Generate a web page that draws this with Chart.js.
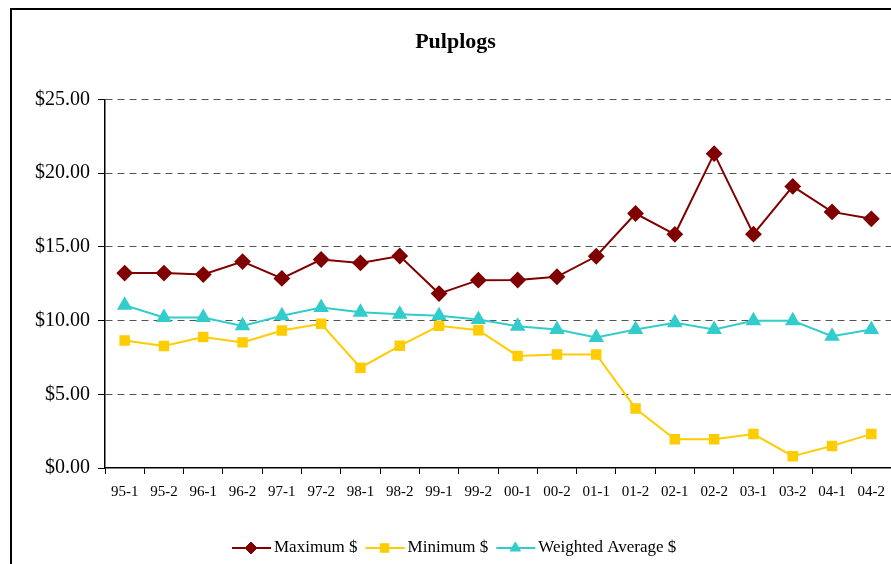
<!DOCTYPE html>
<html>
<head>
<meta charset="utf-8">
<script src="https://cdn.jsdelivr.net/npm/chart.js@4/dist/chart.umd.min.js"></script>
<style>
  body { margin: 0; background: #fff; }
  #wrap { position: relative; width: 891px; height: 564px; overflow: hidden; }
  #frame { position: absolute; left: 10px; top: 8px; width: 1000px; height: 700px;
           border-left: 2px solid #000; border-top: 2px solid #000; }
  canvas { position: absolute; left: 0; top: 0; }
</style>
</head>
<body>
<div id="wrap">
  <div id="frame"></div>
  <!-- canvas is a bit wider than the window so the title centers like the original frame -->
  <canvas id="myChart" width="911" height="564"></canvas>
</div>
<script>
const periods = ['95-1', '95-2', '96-1', '96-2', '97-1', '97-2', '98-1', '98-2', '99-1', '99-2',
  '00-1', '00-2', '01-1', '01-2', '02-1', '02-2', '03-1', '03-2', '04-1', '04-2'];

const maximum = [13.22, 13.22, 13.12, 14.0, 12.86, 14.14, 13.91, 14.38, 11.83, 12.74,
  12.75, 12.97, 14.36, 17.26, 15.85, 21.32, 15.86, 19.1, 17.37, 16.9];

const minimum = [8.65, 8.28, 8.88, 8.52, 9.33, 9.78, 6.8, 8.29, 9.64, 9.35,
  7.6, 7.7, 7.7, 4.04, 1.95, 1.95, 2.3, 0.8, 1.5, 2.3];

const weightedAvg = [11.04, 10.21, 10.21, 9.64, 10.32, 10.89, 10.57, 10.43, 10.32, 10.07,
  9.62, 9.39, 8.85, 9.39, 9.85, 9.39, 9.98, 9.98, 8.94, 9.39];

const serif = '"Liberation Serif", "Times New Roman", serif';

// legend drawn as line + marker like the original
const lineLegend = {
  id: 'lineLegend',
  afterDraw(chart) {
    const ctx = chart.ctx;
    const y = 548;
    let x = 232;
    ctx.save();
    ctx.font = '17px ' + serif;
    ctx.textBaseline = 'middle';
    chart.data.datasets.forEach(ds => {
      ctx.strokeStyle = ds.borderColor;
      ctx.lineWidth = 2;
      ctx.beginPath();
      ctx.moveTo(x, y);
      ctx.lineTo(x + 39, y);
      ctx.stroke();
      ctx.fillStyle = ds.pointBackgroundColor;
      ctx.strokeStyle = ds.pointBackgroundColor;
      ctx.lineWidth = 1;
      Chart.helpers.drawPoint(ctx, {
        pointStyle: ds.pointStyle, radius: 6, borderWidth: 1, rotation: 0
      }, x + 19, y);
      ctx.fillStyle = '#000';
      ctx.fillText(ds.label, x + 42, y);
      x += 42 + ctx.measureText(ds.label).width + 8;
    });
    ctx.restore();
  }
};

const mkDataset = (label, data, color, style, radius) => ({
  label: label,
  data: data,
  borderColor: color,
  backgroundColor: color,
  pointBackgroundColor: color,
  pointBorderColor: color,
  pointStyle: style,
  pointRadius: radius,
  borderWidth: 2,
  tension: 0,
});

let ctx = document.getElementById('myChart').getContext('2d');
let chart = new Chart(ctx, {
  type: 'line',
  data: {
    labels: periods,
    datasets: [
      mkDataset('Maximum $', maximum, '#800000', 'rectRot', 7),
      mkDataset('Minimum $', minimum, '#FFCC00', 'rect', 6),
      mkDataset('Weighted Average $', weightedAvg, '#33CCCC', 'triangle', 7),
    ]
  },
  options: {
    responsive: false,
    animation: false,
    layout: { padding: { left: 20, right: 20, top: 0, bottom: 0 } },
    plugins: {
      legend: { display: false },
      tooltip: { enabled: false },
      title: {
        display: true,
        text: 'Pulplogs',
        color: '#000',
        font: { family: serif, size: 22, weight: 'bold' },
        padding: { top: 29, bottom: 44 }
      }
    },
    scales: {
      x: {
        offset: true,
        grid: { offset: true, drawOnChartArea: false, drawTicks: true, tickLength: 6, tickColor: '#000', tickWidth: 1 },
        border: { color: '#000', width: 1.5 },
        ticks: { color: '#000', font: { family: serif, size: 15 }, maxRotation: 0, autoSkip: false, padding: 9 },
        afterFit: s => { s.height = 96; }
      },
      y: {
        min: 0,
        max: 25,
        ticks: {
          stepSize: 5,
          color: '#000',
          font: { family: serif, size: 20 },
          padding: 8,
          callback: v => '$' + v.toFixed(2)
        },
        grid: {
          color: c => c.tick.value === 0 ? 'rgba(0,0,0,0)' : '#555',
          lineWidth: 1,
          tickLength: 7,
          tickColor: '#000',
          tickBorderDash: [],
        },
        border: { color: '#000', width: 1.5, dash: [7, 5] },
        afterFit: s => { s.width = 85; }
      }
    }
  },
  plugins: [lineLegend]
});
</script>
</body>
</html>
